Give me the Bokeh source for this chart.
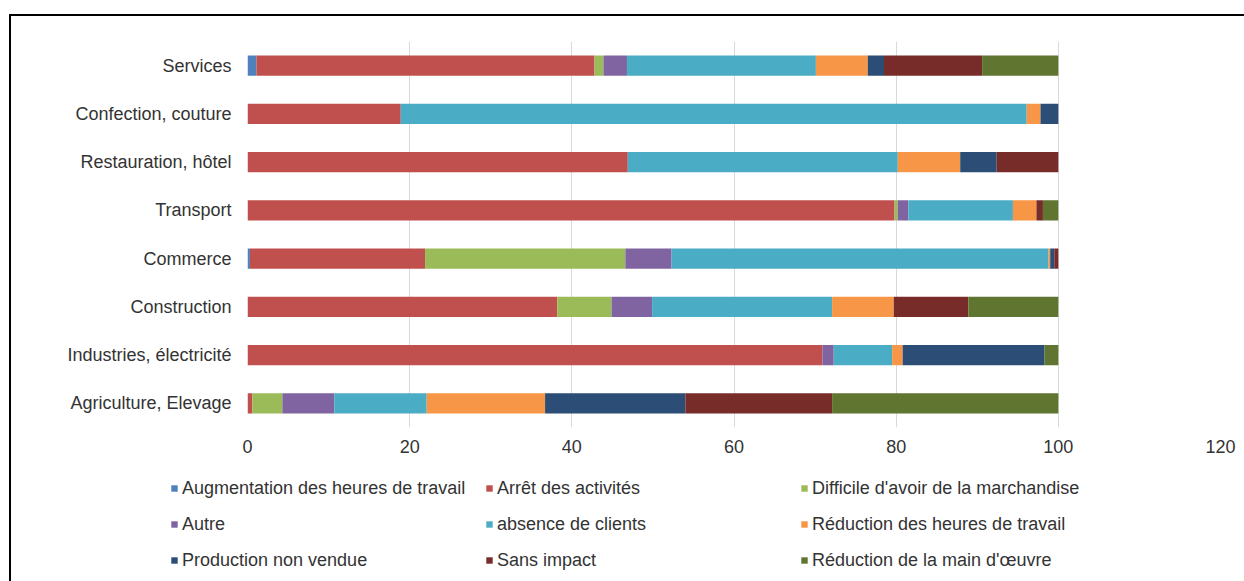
from bokeh.plotting import figure
from bokeh.layouts import column
from bokeh.models import ColumnDataSource, FactorRange, Range1d, FixedTicker, Legend, LegendItem
from bokeh.embed import file_html
from bokeh.resources import INLINE

categories = ["Services", "Confection, couture", "Restauration, hôtel", "Transport",
              "Commerce", "Construction", "Industries, électricité", "Agriculture, Elevage"]

series = ["Augmentation des heures de travail", "Arrêt des activités", "Difficile d'avoir de la marchandise",
          "Autre", "absence de clients", "Réduction des heures de travail",
          "Production non vendue", "Sans impact", "Réduction de la main d'œuvre"]

augmentation = [1.1, 0, 0, 0, 0.3, 0, 0, 0]
arret = [41.7, 18.9, 46.9, 79.8, 21.6, 38.2, 70.9, 0.6]
difficile = [1.1, 0, 0, 0.4, 24.7, 6.7, 0, 3.7]
autre = [2.9, 0, 0, 1.3, 5.7, 5.0, 1.4, 6.4]
absence = [23.3, 77.2, 33.3, 12.9, 46.5, 22.2, 7.2, 11.4]
reduction_heures = [6.4, 1.7, 7.7, 2.9, 0.2, 7.6, 1.3, 14.6]
production = [2.0, 2.2, 4.5, 0, 0.5, 0, 17.5, 17.3]
sans_impact = [12.1, 0, 7.6, 0.8, 0.5, 9.2, 0, 18.1]
reduction_main = [9.4, 0, 0, 1.9, 0, 11.1, 1.7, 27.9]

x_ticks = [0, 20, 40, 60, 80, 100, 120]

colors = ["#4F81BD", "#C0504D", "#9BBB59", "#8064A2", "#4BACC6", "#F79646",
          "#2C4D75", "#772C2A", "#5F7530"]

keys = ["s%d" % i for i in range(9)]
data = {"cat": categories}
for k, v in zip(keys, [augmentation, arret, difficile, autre, absence, reduction_heures,
                       production, sans_impact, reduction_main]):
    data[k] = v
source = ColumnDataSource(data)

FONT = "Liberation Sans"
TXT = "#333333"
FS = "18px"

# ---- main chart ----
p = figure(width=1244, height=465, output_backend="svg", toolbar_location=None,
           y_range=FactorRange(factors=list(reversed(categories))),
           x_range=Range1d(0, 120),
           min_border_left=247, min_border_right=24, min_border_top=41, min_border_bottom=38)
p.frame_align = False
p.border_fill_alpha = 0
p.background_fill_color = "white"
p.styles = {
    "background": "linear-gradient(#000,#000) 9px 14px / 1400px 2px no-repeat, "
                  "linear-gradient(#000,#000) 9px 14px / 2px 800px no-repeat, #ffffff",
}

renderers = p.hbar_stack(keys, y="cat", height=0.42, color=colors, source=source, line_color=None)

p.outline_line_color = None
p.ygrid.grid_line_color = None
p.xgrid.grid_line_color = "#D9D9D9"
p.xgrid.grid_line_width = 1
p.xaxis.ticker = FixedTicker(ticks=x_ticks)
for ax in (p.xaxis, p.yaxis):
    ax.axis_line_color = None
    ax.major_tick_line_color = None
    ax.minor_tick_line_color = None
    ax.major_tick_out = 0
    ax.major_tick_in = 0
    ax.minor_tick_out = 0
    ax.major_label_text_font = FONT
    ax.major_label_text_font_size = FS
    ax.major_label_text_color = TXT
p.xaxis.major_label_standoff = 12
p.yaxis.major_label_standoff = 16

# ---- legend strip ----
q = figure(width=1244, height=116, output_backend="svg", toolbar_location=None,
           x_range=Range1d(0, 1), y_range=Range1d(0, 1),
           x_axis_location=None, y_axis_location=None,
           min_border_left=0, min_border_right=0, min_border_top=0, min_border_bottom=0)
q.frame_align = False
q.grid.visible = False
q.outline_line_color = None
q.border_fill_alpha = 0
q.background_fill_alpha = 0
q.styles = {
    "background": "linear-gradient(#000,#000) 9px 0px / 2px 400px no-repeat, #ffffff",
}

# legend-only proxies (zero-size, never visible)
leg_renderers = [q.hbar(y=[0], left=[0], right=[0], height=0, color=c, line_color=None)
                 for c in colors]

order = [0, 3, 6, 1, 4, 7, 2, 5, 8]
items = [LegendItem(label=series[i], renderers=[leg_renderers[i]]) for i in order]
leg = Legend(items=items, location=(170, 3), orientation="vertical", nrows=3,
             glyph_width=8, glyph_height=8, label_standoff=4, label_height=36, label_width=303,
             spacing=0, padding=0, margin=0, border_line_color=None,
             background_fill_alpha=0, label_text_font=FONT,
             label_text_font_size=FS, label_text_color=TXT)
q.add_layout(leg, "center")

layout = column(p, q, spacing=0)
open("out.html", "w").write(file_html(layout, INLINE))
